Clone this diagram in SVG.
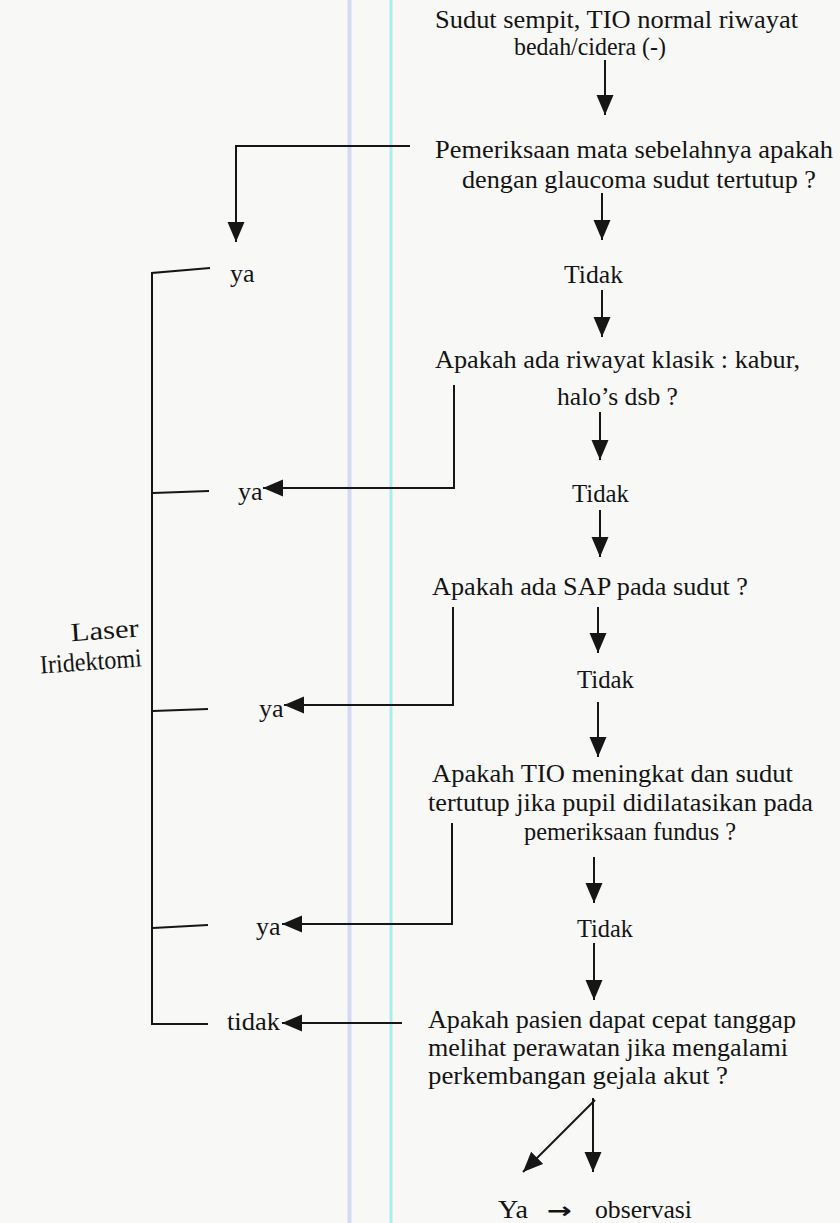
<svg xmlns="http://www.w3.org/2000/svg" width="840" height="1223" viewBox="0 0 840 1223">
  <style>
    .t { font-family: "Liberation Serif", "Times New Roman", serif; font-size: 26px; fill: #141414; }
    .c { fill: none; stroke: #161616; stroke-width: 2; stroke-linejoin: miter; }
    .a { marker-end: url(#head); }
  </style>
  <defs>
    <marker id="head" markerUnits="userSpaceOnUse" markerWidth="21" markerHeight="18" refX="20" refY="8.5" orient="auto" viewBox="0 0 21 18">
      <path d="M0,0 L20,8.5 L0,17 z" fill="#161616"/>
    </marker>
  </defs>

  <!-- paper -->
  <rect width="840" height="1223" fill="#f8f8f7"/>
  <!-- margin rules -->
  <rect x="347.5" y="0" width="4" height="1223" fill="#d6d9f5"/>
  <rect x="389.5" y="0" width="3" height="1223" fill="#aaeef0"/>

  <!-- main chain of questions -->
  <g id="q1">
    <text class="t" x="435" y="28" textLength="363" lengthAdjust="spacingAndGlyphs">Sudut sempit, TIO normal riwayat</text>
    <text class="t" x="514" y="55" textLength="152" lengthAdjust="spacingAndGlyphs">bedah/cidera (-)</text>
  </g>
  <g id="q2">
    <text class="t" x="435" y="158" textLength="398" lengthAdjust="spacingAndGlyphs">Pemeriksaan mata sebelahnya  apakah</text>
    <text class="t" x="462" y="188" textLength="354" lengthAdjust="spacingAndGlyphs">dengan glaucoma sudut tertutup ?</text>
  </g>
  <g id="no1"><text class="t" x="564" y="283" textLength="59" lengthAdjust="spacingAndGlyphs">Tidak</text></g>
  <g id="q3">
    <text class="t" x="435" y="368" textLength="365" lengthAdjust="spacingAndGlyphs">Apakah ada riwayat klasik : kabur,</text>
    <text class="t" x="557" y="405" textLength="121" lengthAdjust="spacingAndGlyphs">halo’s dsb ?</text>
  </g>
  <g id="no2"><text class="t" x="572" y="502" textLength="57" lengthAdjust="spacingAndGlyphs">Tidak</text></g>
  <g id="q4">
    <text class="t" x="432" y="595" textLength="316" lengthAdjust="spacingAndGlyphs">Apakah ada SAP pada sudut ?</text>
  </g>
  <g id="no3"><text class="t" x="577" y="688" textLength="57" lengthAdjust="spacingAndGlyphs">Tidak</text></g>
  <g id="q5">
    <text class="t" x="432" y="782" textLength="361" lengthAdjust="spacingAndGlyphs">Apakah TIO meningkat dan sudut</text>
    <text class="t" x="428" y="811" textLength="385" lengthAdjust="spacingAndGlyphs">tertutup jika pupil didilatasikan pada</text>
    <text class="t" x="524" y="840" textLength="212" lengthAdjust="spacingAndGlyphs">pemeriksaan fundus ?</text>
  </g>
  <g id="no4"><text class="t" x="577" y="937" textLength="56" lengthAdjust="spacingAndGlyphs">Tidak</text></g>
  <g id="q6">
    <text class="t" x="428" y="1028" textLength="368" lengthAdjust="spacingAndGlyphs">Apakah pasien dapat cepat tanggap</text>
    <text class="t" x="428" y="1056" textLength="360" lengthAdjust="spacingAndGlyphs">melihat perawatan jika mengalami</text>
    <text class="t" x="428" y="1084" textLength="300" lengthAdjust="spacingAndGlyphs">perkembangan gejala akut ?</text>
  </g>
  <g id="outcome">
    <text class="t" x="498" y="1218" textLength="30" lengthAdjust="spacingAndGlyphs">Ya</text>
    <text x="547" y="1218" font-family="'DejaVu Sans', sans-serif" font-size="22" font-weight="bold" fill="#141414" textLength="25" lengthAdjust="spacingAndGlyphs">→</text>
    <text class="t" x="595" y="1218" textLength="97" lengthAdjust="spacingAndGlyphs">observasi</text>
  </g>

  <!-- answers on the left -->
  <g id="ya1"><text class="t" x="230" y="282">ya</text></g>
  <g id="ya2"><text class="t" x="238" y="500">ya</text></g>
  <g id="ya3"><text class="t" x="259" y="717">ya</text></g>
  <g id="ya4"><text class="t" x="256" y="935">ya</text></g>
  <g id="tidak"><text class="t" x="227" y="1030" textLength="53" lengthAdjust="spacingAndGlyphs">tidak</text></g>

  <!-- treatment bracket -->
  <g id="laser">
    <path class="c" d="M210,268 L152,273 V1024 H208"/>
    <path class="c" d="M153,493 L209,491"/>
    <path class="c" d="M153,711 L208,709"/>
    <path class="c" d="M153,928 L208,925"/>
    <g transform="rotate(-4 90 650)">
      <text class="t" x="72" y="640" font-size="28" textLength="68" lengthAdjust="spacingAndGlyphs">Laser</text>
      <text class="t" x="39" y="670" font-size="28" textLength="102" lengthAdjust="spacingAndGlyphs">Iridektomi</text>
    </g>
  </g>

  <g id="connectors">
    <path class="c a" d="M605,60 V115"/>
    <path class="c a" d="M410,146 H236 V242"/>
    <path class="c a" d="M602,193 V240"/>
    <path class="c a" d="M602,290 V337"/>
    <path class="c a" d="M454,385 V488 H263"/>
    <path class="c a" d="M600,412 V460"/>
    <path class="c a" d="M600,510 V557"/>
    <path class="c a" d="M453,607 V705 H284"/>
    <path class="c a" d="M598,607 V653"/>
    <path class="c a" d="M598,702 V757"/>
    <path class="c a" d="M452,823 V924 H282"/>
    <path class="c a" d="M594,857 V903"/>
    <path class="c a" d="M594,943 V1000"/>
    <path class="c a" d="M402,1023 H282"/>
    <path class="c a" d="M593,1098 V1172"/>
    <path class="c a" d="M595,1100 L523,1172"/>
  </g>
</svg>
